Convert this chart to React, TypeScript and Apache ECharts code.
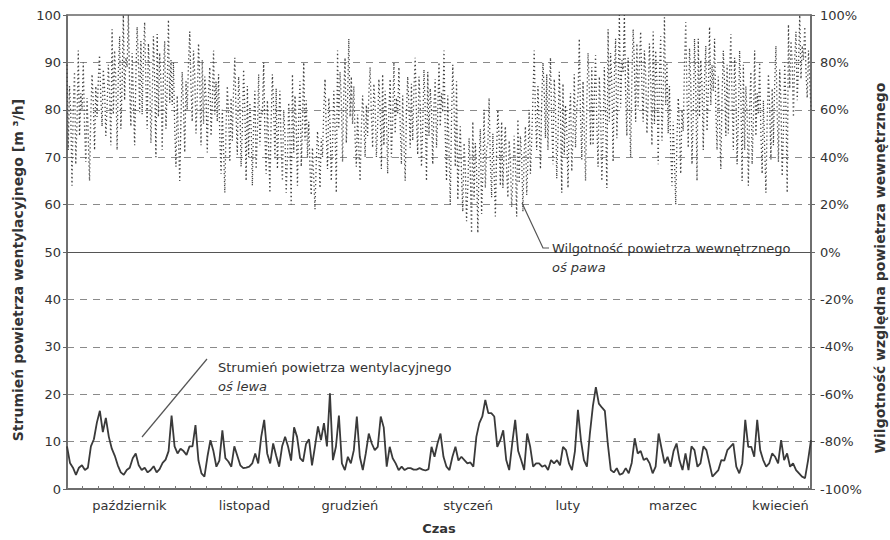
import React, { useEffect, useRef } from "react";
import * as echarts from "echarts";

const DAYS = 212;
const monthNames = ["październik", "listopad", "grudzień", "styczeń", "luty", "marzec", "kwiecień"];
const monthLabelDays = [17.8, 50.6, 80.6, 114.3, 142.7, 172.7, 203.3];

// Strumień powietrza wentylacyjnego [m3/h] (left axis)
const ventFlow = [
  9, 5.5, 4.5, 3, 4.5, 5, 4, 4.5, 9, 10.5, 14, 16.5, 12, 15, 11, 8.5, 7, 5, 3.5, 3, 4, 4.5, 6.5, 7.5, 5, 4, 4.5, 3.5, 4, 4.8, 3.5, 4.2, 5.5, 6.2, 8, 15.5, 9, 7.5, 8.5, 8, 7.2, 9,
  9, 13.5, 6, 3.3, 2.6, 6.8, 10.3, 8, 4.7, 6, 12.4, 6.5, 5.8, 4.7, 9, 7, 5, 4.4, 4.5, 4.7, 5.4, 7.5, 5.4, 11, 14.6, 7.5, 5.4, 9.6, 7, 4.7, 9, 11, 8.9, 6, 13, 11, 6.5, 5.8, 9.5, 10.5, 5, 9,
  13.2, 10.3, 13.9, 9, 20.2, 6.1, 8.9, 15.5, 5.4, 4, 6.8, 5.4, 8.2, 15.3, 6.8, 4, 7.5, 11.7, 9.6, 8.2, 8.9, 15.3, 13, 4.7, 8.9, 6.5, 5.4, 4, 4.7, 4, 4.4, 4.4, 4.1, 4.1, 4.4, 4.1, 3.9, 4.2, 8.9, 6.8, 9.6, 11.7,
  6.8, 4.7, 4, 6.8, 8.9, 6, 6.8, 6.1, 5.4, 5.6, 4.7, 11, 13.9, 15.3, 18.8, 16, 16, 15.3, 8.9, 10.3, 12.4, 6.1, 4, 9.6, 14.6, 8, 6.1, 4, 11.7, 9, 4.7, 5.4, 5.4, 4.7, 5, 4, 6.1, 5.4, 6.1, 5, 8.9, 8.2,
  5.4, 4, 8, 16.7, 10.3, 6.1, 4.7, 11.7, 17.5, 21.5, 18, 17.2, 16.5, 9.5, 4, 3.5, 4.4, 3, 3.3, 4.4, 3.3, 5.5, 10.7, 7.5, 8, 6.1, 6.5, 5.4, 3.3, 4.7, 11.7, 8.5, 5.4, 6.8, 4.7, 8, 9.6, 6, 4, 7.5, 4, 9,
  8.2, 4.7, 5.4, 9, 8.2, 5.4, 2.6, 3.3, 4, 6.1, 6, 8.2, 8.9, 9.6, 4.7, 3.3, 5.4, 14.6, 8.9, 8.9, 6.8, 14.6, 8.2, 6.1, 4.7, 5.4, 7.5, 6.8, 5.4, 10.3, 6.1, 7.5, 4.7, 5.4, 4, 3.3, 2.6, 2.3, 6, 10.3,
];

// Wilgotność względna powietrza wewnętrznego [%] (right axis)
const humidity = [
  79, 43, 70, 58, 28, 61, 76, 37, 55, 85, 49, 67,
  60, 80, 53, 38, 65, 48, 30, 58, 75, 63, 43, 70,
  57, 73, 83, 65, 53, 77, 69, 49, 61, 79, 67, 45,
  94, 58, 85, 73, 43, 76, 91, 52, 70, 100, 64, 82,
  78, 100, 70, 53, 84, 64, 45, 75, 95, 81, 59, 89,
  58, 82, 97, 70, 52, 88, 76, 46, 64, 91, 73, 40,
  92, 57, 84, 72, 43, 75, 89, 52, 69, 98, 63, 81,
  62, 80, 52, 36, 66, 47, 30, 57, 76, 61, 42, 72,
  60, 80, 93, 70, 55, 85, 75, 50, 65, 88, 73, 45,
  81, 54, 74, 65, 42, 67, 78, 49, 63, 85, 58, 72,
  55, 75, 48, 33, 60, 43, 25, 53, 70, 58, 38, 65,
  47, 69, 82, 58, 41, 74, 63, 36, 52, 77, 60, 30,
  70, 40, 63, 53, 28, 55, 68, 35, 50, 75, 45, 60,
  58, 80, 50, 33, 64, 44, 25, 55, 75, 61, 39, 69,
  35, 55, 68, 45, 30, 60, 50, 25, 40, 63, 48, 20,
  75, 42, 66, 55, 28, 58, 72, 36, 53, 80, 47, 64,
  40, 55, 35, 24, 44, 31, 18, 38, 51, 42, 27, 48,
  40, 60, 73, 50, 35, 65, 55, 30, 45, 68, 53, 25,
  85, 52, 76, 65, 38, 68, 82, 46, 63, 90, 57, 74,
  54, 70, 48, 36, 58, 44, 30, 52, 66, 56, 40, 62,
  49, 67, 78, 58, 44, 71, 62, 40, 53, 73, 60, 35,
  75, 45, 68, 58, 33, 60, 73, 40, 55, 80, 50, 65,
  58, 78, 54, 37, 66, 46, 30, 59, 74, 62, 44, 71,
  47, 69, 82, 58, 41, 74, 63, 36, 52, 77, 60, 30,
  76, 49, 69, 60, 37, 62, 73, 44, 58, 80, 53, 67,
  59, 85, 49, 30, 66, 43, 20, 56, 79, 62, 36, 72,
  22, 41, 53, 32, 17, 46, 36, 13, 27, 48, 34, 8,
  55, 22, 46, 35, 8, 38, 52, 16, 33, 60, 27, 44,
  45, 65, 38, 23, 50, 33, 15, 43, 60, 48, 28, 55,
  27, 43, 53, 35, 23, 47, 39, 19, 31, 49, 37, 15,
  56, 29, 49, 40, 17, 42, 53, 24, 38, 60, 33, 47,
  65, 85, 58, 43, 70, 53, 35, 63, 80, 68, 48, 75,
  43, 67, 82, 55, 37, 73, 61, 31, 49, 76, 58, 25,
  71, 41, 62, 52, 27, 56, 67, 34, 49, 75, 44, 61,
  66, 90, 57, 39, 72, 51, 30, 63, 84, 69, 45, 78,
  45, 66, 83, 54, 36, 74, 60, 30, 50, 78, 57, 27,
  94, 55, 84, 71, 38, 74, 90, 48, 68, 100, 61, 81,
  76, 100, 67, 49, 82, 61, 40, 73, 94, 79, 55, 88,
  60, 80, 93, 70, 55, 85, 75, 50, 65, 88, 73, 45,
  93, 54, 85, 72, 37, 75, 91, 47, 67, 99, 62, 80,
  50, 70, 43, 28, 55, 38, 20, 48, 65, 53, 33, 60,
  51, 79, 97, 65, 44, 86, 72, 37, 58, 90, 69, 30,
  90, 57, 81, 70, 43, 73, 87, 51, 68, 95, 62, 79,
  68, 90, 60, 43, 74, 54, 35, 65, 85, 71, 49, 79,
  50, 76, 92, 63, 43, 82, 69, 37, 56, 85, 66, 30,
  79, 43, 70, 58, 28, 61, 76, 37, 55, 85, 49, 67,
  58, 80, 50, 33, 64, 44, 25, 55, 75, 61, 39, 69,
  45, 71, 87, 58, 38, 77, 64, 32, 51, 80, 61, 25,
  96, 69, 89, 80, 57, 82, 93, 64, 78, 100, 73, 87,
  81, 95, 76, 65, 85, 72, 60,
];

const zeroLineLeft = 50;

const FONT = "DejaVu Sans";
const TEXT = "#333";

export default function App() {
  const ref = useRef<HTMLDivElement>(null);
  useEffect(() => {
    const chart = echarts.init(ref.current!, null, { renderer: "svg" });
    const ventPts = ventFlow.map((v, i) => [(i * DAYS) / (ventFlow.length - 1), v]);
    const humPts = humidity.map((v, i) => [(i * DAYS) / (humidity.length - 1), v]);
    chart.setOption({
      animation: false,
      backgroundColor: "#ffffff",
      textStyle: { fontFamily: FONT },
      grid: { left: 67, right: 79, top: 15, bottom: 51, show: true, borderColor: "#666", borderWidth: 1.5, backgroundColor: "transparent" },
      xAxis: {
        type: "value",
        min: 0,
        max: DAYS,
        interval: 4.4,
        axisLine: { show: true, lineStyle: { color: "#666", width: 1.5 } },
        axisTick: { show: true, inside: true, length: 3, lineStyle: { color: "#777" } },
        axisLabel: {
          customValues: monthLabelDays,
          formatter: (v: number) => {
            let best = 0;
            monthLabelDays.forEach((d, i) => {
              if (Math.abs(d - v) < Math.abs(monthLabelDays[best] - v)) best = i;
            });
            return monthNames[best];
          },
          margin: 10,
          fontSize: 13,
          color: TEXT,
          fontFamily: FONT,
        },
        splitLine: { show: false },
      },
      yAxis: [
        {
          type: "value",
          min: 0,
          max: 100,
          interval: 10,
          position: "left",
          axisLine: { show: true, lineStyle: { color: "#666", width: 1.5 } },
          axisTick: { show: true, length: 4, lineStyle: { color: "#666" } },
          axisLabel: { margin: 6, fontSize: 13, color: TEXT, fontFamily: FONT },
          splitLine: { show: true, lineStyle: { type: [7, 6], color: "#8a8a8a", width: 1 } },
        },
        {
          type: "value",
          min: -100,
          max: 100,
          interval: 20,
          position: "right",
          axisLine: { show: true, lineStyle: { color: "#666", width: 1.5 } },
          axisTick: { show: true, length: 4, lineStyle: { color: "#666" } },
          axisLabel: { margin: 9, fontSize: 13, color: TEXT, fontFamily: FONT, formatter: "{value}%" },
          splitLine: { show: false },
        },
      ],
      series: [
        {
          name: "Wilgotność powietrza wewnętrznego",
          type: "line",
          yAxisIndex: 1,
          data: humPts,
          showSymbol: false,
          lineStyle: { color: "#444", width: 1.3, type: [1.3, 2.7] },
          z: 2,
        },
        {
          name: "Strumień powietrza wentylacyjnego",
          type: "line",
          yAxisIndex: 0,
          data: ventPts,
          showSymbol: false,
          lineStyle: { color: "#3a3a3a", width: 1.8 },
          z: 3,
          markLine: {
            silent: true,
            symbol: "none",
            label: { show: false },
            lineStyle: { color: "#555", type: "solid", width: 1.2 },
            data: [{ yAxis: zeroLineLeft }],
          },
        },
      ],
      graphic: [
        {
          type: "text",
          x: 18,
          y: 270,
          rotation: Math.PI / 2,
          style: {
            text: "Strumień powietrza wentylacyjnego [m ³/h]",
            fill: TEXT,
            font: `bold 14px "${FONT}"`,
            align: "center",
            verticalAlign: "middle",
          },
        },
        {
          type: "text",
          x: 880,
          y: 268,
          rotation: Math.PI / 2,
          style: {
            text: "Wilgotność względna powietrza wewnętrznego",
            fill: TEXT,
            font: `bold 14px "${FONT}"`,
            align: "center",
            verticalAlign: "middle",
          },
        },
        {
          type: "text",
          x: 439,
          y: 528,
          style: { text: "Czas", fill: TEXT, font: `bold 13px "${FONT}"`, align: "center", verticalAlign: "middle" },
        },
        {
          type: "polyline",
          shape: { points: [[522, 203], [543, 248], [549, 248]] },
          style: { stroke: "#555", lineWidth: 1.2, fill: "none" },
          z: 10,
        },
        {
          type: "text",
          x: 552,
          y: 248,
          style: { text: "Wilgotność powietrza wewnętrznego", fill: TEXT, font: `13px "${FONT}"`, align: "left", verticalAlign: "middle" },
          z: 10,
        },
        {
          type: "text",
          x: 552,
          y: 267,
          style: { text: "oś pawa", fill: TEXT, font: `italic 13px "${FONT}"`, align: "left", verticalAlign: "middle" },
          z: 10,
        },
        {
          type: "line",
          shape: { x1: 142, y1: 437, x2: 207, y2: 359 },
          style: { stroke: "#555", lineWidth: 1.2 },
          z: 10,
        },
        {
          type: "text",
          x: 218,
          y: 367,
          style: { text: "Strumień powietrza wentylacyjnego", fill: TEXT, font: `13px "${FONT}"`, align: "left", verticalAlign: "middle" },
          z: 10,
        },
        {
          type: "text",
          x: 218,
          y: 386,
          style: { text: "oś lewa", fill: TEXT, font: `italic 13px "${FONT}"`, align: "left", verticalAlign: "middle" },
          z: 10,
        },
      ],
    });
    return () => chart.dispose();
  }, []);
  return <div ref={ref} style={{ width: 890, height: 540, position: "absolute", left: 0, top: 0 }} />;
}
